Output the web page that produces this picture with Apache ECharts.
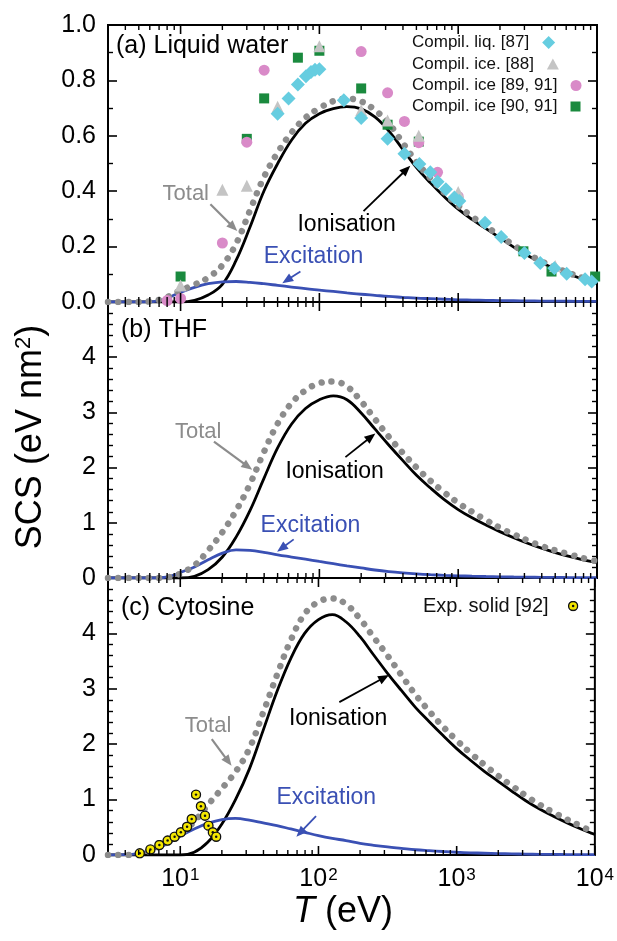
<!DOCTYPE html>
<html>
<head>
<meta charset="utf-8">
<script src="https://cdn.jsdelivr.net/npm/echarts@6/dist/echarts.min.js"></script>
<style>html,body{margin:0;padding:0;background:#fff}#c{width:617px;height:941px}</style>
</head>
<body>
<div id="c"></div>
<script>
// ---------------- DATA ----------------
// common energy grid (eV) for the model curves
const energyT = [3,4,5,6,7,8,9,10,12.6,15.8,20,25.1,31.6,39.8,50.1,63.1,79.4,100,126,158,200,251,316,398,501,631,794,1000,1259,1585,1995,2512,3162,3981,5012,6310,7943,10000];

// Panel (a) Liquid water
const waterTotal = [0,0,0,0.002,0.008,0.018,0.03,0.042, 0.063,0.088,0.133,0.21,0.33,0.45,0.54,0.612,0.665,0.7, 0.725,0.734,0.724,0.693,0.645,0.575,0.505,0.447,0.395,0.348, 0.308,0.273,0.239,0.205,0.174,0.147,0.124,0.104,0.086,0.069];
const waterIon   = [0,0,0,0,0,0,0,0, 0.006,0.025,0.064,0.15,0.27,0.4,0.5,0.585,0.645,0.68, 0.698,0.705,0.697,0.668,0.618,0.552,0.485,0.43,0.38,0.335, 0.298,0.265,0.232,0.198,0.168,0.142,0.12,0.1,0.082,0.066];
const waterExc   = [0,0,0,0,0.005,0.014,0.025,0.035, 0.053,0.066,0.073,0.074,0.071,0.066,0.06,0.054,0.048,0.043, 0.038,0.033,0.028,0.024,0.02,0.017,0.014,0.012,0.01,0.008, 0.007,0.006,0.005,0.0045,0.004,0.0035,0.003,0.0027,0.0024,0.002];

const liq87T = [50,60,70,80,87,93,100,150,200,310,410,525,630,710,815,940,1020,1560,2040,3000,3900,4930,6050,8200,9160];
const liq87V = [0.68,0.735,0.785,0.815,0.83,0.838,0.84,0.728,0.664,0.589,0.535,0.498,0.468,0.434,0.407,0.377,0.365,0.286,0.235,0.177,0.141,0.122,0.102,0.082,0.074];
const ice88T = [10,20,30,50,100,200,310,520,1000,5000];
const ice88V = [0.06,0.405,0.42,0.705,0.923,0.692,0.655,0.6,0.397,0.13];
const ice89T = [8,10,20,30,40,200,310,410,520,710,1000];
const ice89V = [0.005,0.013,0.213,0.577,0.837,0.904,0.755,0.652,0.575,0.468,0.381];
const ice90T = [10,30,40,70,100,200,310,520,2950,4700,9700];
const ice90V = [0.092,0.589,0.735,0.882,0.907,0.771,0.64,0.579,0.183,0.11,0.092];

// Panel (b) THF
const thfTotal = [0,0,0,0,0,0.01,0.04,0.08, 0.23,0.5,0.83,1.22,1.7,2.28,2.8,3.17,3.4,3.53, 3.56,3.47,3.2,2.88,2.56,2.27,2.0,1.76,1.55,1.36, 1.2,1.05,0.91,0.79,0.68,0.58,0.5,0.43,0.36,0.3];
const thfIon   = [0,0,0,0,0,0,0,0, 0.03,0.15,0.38,0.74,1.22,1.8,2.36,2.79,3.07,3.23, 3.3,3.23,2.99,2.7,2.41,2.13,1.86,1.63,1.42,1.24, 1.09,0.96,0.84,0.73,0.63,0.54,0.46,0.39,0.33,0.28];
const thfExc   = [0,0,0,0,0,0.02,0.055,0.1, 0.2,0.33,0.45,0.51,0.5,0.465,0.42,0.38,0.34,0.3, 0.26,0.22,0.182,0.145,0.115,0.092,0.074,0.06,0.049,0.04, 0.033,0.027,0.022,0.018,0.015,0.012,0.01,0.008,0.007,0.006];

// Panel (c) Cytosine
const cytTotal = [0,0,0.02,0.08,0.15,0.22,0.3,0.38, 0.6,0.9,1.2,1.5,1.92,2.57,3.25,3.88,4.35,4.57, 4.63,4.53,4.26,3.93,3.6,3.25,2.9,2.6,2.32,2.07, 1.84,1.63,1.43,1.25,1.07,0.91,0.77,0.64,0.52,0.4];
const cytIon   = [0,0,0,0,0,0,0,0, 0.05,0.23,0.56,1.0,1.55,2.25,2.95,3.55,4.0,4.25, 4.34,4.21,3.94,3.61,3.28,2.97,2.67,2.41,2.16,1.92, 1.71,1.51,1.33,1.15,0.98,0.83,0.7,0.58,0.47,0.37];
const cytExc   = [0,0.005,0.03,0.08,0.14,0.2,0.27,0.34, 0.47,0.57,0.64,0.66,0.63,0.58,0.53,0.47,0.41,0.35, 0.3,0.26,0.21,0.175,0.145,0.12,0.095,0.078,0.063,0.05, 0.04,0.032,0.025,0.02,0.016,0.012,0.01,0.008,0.006,0.005];

const exp92T = [5.09,6.08,7.06,8.1,9.1,10.1,11.2,12.1,13.0,14.1,15.1,16.0,17.2,18.2];
const exp92V = [0.03,0.10,0.18,0.26,0.33,0.41,0.51,0.65,1.09,0.88,0.71,0.53,0.41,0.33];

// Axis ticks / labels
const xMajorTicks = [10,100,1000,10000];
const xMinorTicks = [4,5,6,7,8,9,20,30,40,50,60,70,80,90,200,300,400,500,600,700,800,900,2000,3000,4000,5000,6000,7000,8000,9000];
const panelYMax = [1, 5, 5];
const panelYInterval = [0.2, 1, 1];
const panelYMinorSplit = [2, 5, 5];
const panelTitles = ['(a) Liquid water', '(b) THF', '(c) Cytosine'];
const legendA = ['Compil. liq. [87]', 'Compil. ice. [88]', 'Compil. ice [89, 91]', 'Compil. ice [90, 91]'];
const legendC = ['Exp. solid [92]'];

// Annotations (data coordinates): [panel, label, textT, textV, arrowFromT, arrowFromV, arrowToT, arrowToV, kind]
const annotations = [
  [0,'Total',10.9,0.389,16.4,0.353,25.6,0.256,'total'],
  [0,'Ionisation',69.5,0.28,208,0.328,452,0.492,'ion'],
  [0,'Excitation',39.7,0.164,73,0.11,54,0.068,'exc'],
  [1,'Total',13.4,2.65,17.4,2.47,32.8,1.96,'total'],
  [1,'Ionisation',56.9,1.92,154,2.19,253,2.62,'ion'],
  [1,'Excitation',37.7,0.94,65.3,0.70,49.6,0.476,'exc'],
  [2,'Total',15.9,2.33,16.9,2.09,23.5,1.61,'total'],
  [2,'Ionisation',61.1,2.47,141.6,2.76,324,3.25,'ion'],
  [2,'Excitation',49.6,1.04,96,0.70,69.2,0.33,'exc']
];

// ---------------- CHART ----------------
const FONT = "'Liberation Sans', Arial, Helvetica, sans-serif";
const C_TOTAL = '#8c8c8c', C_ION = '#000000', C_EXC = '#3a50b4';
const chart = echarts.init(document.getElementById('c'), null, {renderer: 'canvas'});

const zip = (a, b) => a.map((x, i) => [x, b[i]]);
const grids = [
  {left: 108, right: 20, top: 25, height: 277},
  {left: 108, right: 20, top: 302, height: 276},
  {left: 108, right: 20, top: 578, height: 277}
].map(g => Object.assign({show: true, borderColor: '#000', borderWidth: 2, backgroundColor: 'transparent'}, g));

const xAxes = [0,1,2].map(i => ({
  type: 'log', logBase: 10, gridIndex: i, min: 3, max: 10000,
  axisLine: {show: false}, axisTick: {show: false}, splitLine: {show: false}, minorTick: {show: false},
  axisLabel: i === 2 ? {
    show: true, margin: 12, color: '#000', fontFamily: FONT, fontSize: 25,
    formatter: v => {
      const e = Math.round(Math.log10(v));
      if (Math.abs(Math.pow(10, e) - v) > 1e-6 * v || e < 1) return '';
      return '10{s|' + e + '}';
    },
    rich: {s: {fontSize: 17, fontFamily: FONT, color: '#000', verticalAlign: 'top', padding: [0,0,0,1]}}
  } : {show: false}
}));

const yAxes = [];
[0,1,2].forEach(i => {
  const base = {
    type: 'value', gridIndex: i, min: 0, max: panelYMax[i], interval: panelYInterval[i],
    axisLine: {show: false}, splitLine: {show: false},
    axisTick: {show: true, inside: true, length: 9, lineStyle: {color: '#000', width: 1.6}},
    minorTick: {show: true, splitNumber: panelYMinorSplit[i], length: 5, lineStyle: {color: '#000', width: 1.4}}
  };
  yAxes.push(Object.assign({}, base, {
    position: 'left',
    axisLabel: {
      show: true, margin: 12, color: '#000', fontFamily: FONT, fontSize: 25,
      showMaxLabel: i === 0, showMinLabel: true,
      formatter: v => i === 0 ? v.toFixed(1) : String(Math.round(v))
    }
  }));
  yAxes.push(Object.assign({}, base, {position: 'right', axisLabel: {show: false}}));
});

const series = [];
const seriesRef = [];
function lineSeries(i, name, T, V, kind) {
  const s = {
    type: 'line', name, xAxisIndex: i, yAxisIndex: 2 * i, data: zip(T, V),
    showSymbol: false, symbol: 'none', smooth: 0.4, silent: true, z: 3, clip: true
  };
  if (kind === 'total') s.lineStyle = {color: C_TOTAL, width: 6.5, type: [0.01, 10.2], cap: 'round'};
  if (kind === 'ion') s.lineStyle = {color: C_ION, width: 2.8};
  if (kind === 'exc') s.lineStyle = {color: C_EXC, width: 2.8};
  s.itemStyle = {color: s.lineStyle.color};
  series.push(s);
  return series.length - 1;
}
const panelData = [
  [waterTotal, waterIon, waterExc],
  [thfTotal, thfIon, thfExc],
  [cytTotal, cytIon, cytExc]
];
panelData.forEach((d, i) => {
  seriesRef[i] = lineSeries(i, 'Ionisation ' + i, energyT, d[1], 'ion');
  lineSeries(i, 'Excitation ' + i, energyT, d[2], 'exc');
  lineSeries(i, 'Total ' + i, energyT, d[0], 'total');
});

function scatter(i, name, T, V, symbol, size, color) {
  series.push({
    type: 'scatter', name, xAxisIndex: i, yAxisIndex: 2 * i, data: zip(T, V),
    symbol, symbolSize: size, itemStyle: {color, opacity: 1}, z: 5, silent: true
  });
}
scatter(0, legendA[3], ice90T, ice90V, 'rect', 10, '#1a8a3e');
scatter(0, legendA[2], ice89T, ice89V, 'circle', 11, '#d98ac8');
scatter(0, legendA[1], ice88T, ice88V, 'triangle', 12, '#c4c4c4');
scatter(0, legendA[0], liq87T, liq87V, 'diamond', 14, '#66cde0');

const ringSvg = "<svg xmlns='http://www.w3.org/2000/svg' width='40' height='40'><circle cx='20' cy='20' r='16.5' fill='#f4e600' stroke='#111' stroke-width='5'/><circle cx='20' cy='20' r='4.5' fill='#111'/></svg>";
scatter(2, legendC[0], exp92T, exp92V, 'image://data:image/svg+xml;charset=utf-8,' + encodeURIComponent(ringSvg), 11, '#f4e600');

// Custom x-tick marks (log minor ticks at 2..9 x 10^n, top and bottom, inward)
const tickData = xMajorTicks.map(v => [v, 0, 1]).concat(xMinorTicks.map(v => [v, 0, 0]));
[0,1,2].forEach(i => {
  series.push({
    type: 'custom', xAxisIndex: i, yAxisIndex: 2 * i, data: tickData, silent: true, clip: false, z: 10,
    encode: {x: 0, y: 1},
    renderItem: (params, api) => {
      const v = api.value(0), maj = api.value(2);
      const b = api.coord([v, 0]);
      const t = api.coord([v, panelYMax[i]]);
      const L = maj ? 9 : 5;
      const st = {stroke: '#000', lineWidth: maj ? 1.6 : 1.4};
      return {type: 'group', children: [
        {type: 'line', shape: {x1: b[0], y1: b[1], x2: b[0], y2: b[1] - L}, style: st},
        {type: 'line', shape: {x1: t[0], y1: t[1], x2: t[0], y2: t[1] + L}, style: st}
      ]};
    }
  });
});

// legends: one component per entry so each icon sits right after its own text
const legendARowTop = [34, 55.5, 77, 98];
const legendAIcon = [[13, 13], [12, 11], [11, 11], [10, 10]];
const legends = legendA.map((name, k) => ({
  data: [name], orient: 'horizontal', left: 412, top: legendARowTop[k], align: 'right', padding: 0,
  itemWidth: legendAIcon[k][0], itemHeight: legendAIcon[k][1], selectedMode: false,
  textStyle: {fontSize: 17, fontFamily: FONT, color: '#111', padding: [0, 8, 0, 0]}
}));
legends.push({
  data: legendC, orient: 'horizontal', left: 423, top: 596, align: 'right', padding: 0,
  itemWidth: 11, itemHeight: 11, selectedMode: false,
  textStyle: {fontSize: 20, fontFamily: FONT, color: '#111', padding: [0, 14, 0, 0]}
});

chart.setOption({
  animation: false,
  backgroundColor: '#fff',
  grid: grids, xAxis: xAxes, yAxis: yAxes, series, legend: legends
});

// ---------- graphic texts & annotation arrows ----------
function arrowGraphics(color, p1, p2, w) {
  const dx = p2[0] - p1[0], dy = p2[1] - p1[1];
  const len = Math.sqrt(dx * dx + dy * dy), ux = dx / len, uy = dy / len;
  const hl = 11, hw = 4.5;
  const bx = p2[0] - ux * hl, by = p2[1] - uy * hl;
  return [
    {type: 'line', shape: {x1: p1[0], y1: p1[1], x2: bx + ux * 2, y2: by + uy * 2}, style: {stroke: color, lineWidth: w}, z: 20},
    {type: 'polygon', shape: {points: [[p2[0], p2[1]], [bx - uy * hw, by + ux * hw], [bx + uy * hw, by - ux * hw]]}, style: {fill: color}, z: 20}
  ];
}
const colorOf = {total: C_TOTAL, ion: '#000', exc: C_EXC};
const gfx = [];
annotations.forEach(a => {
  const [p, label, tT, tV, fT, fV, toT, toV, kind] = a;
  const finder = {seriesIndex: seriesRef[p]};
  const tp = chart.convertToPixel(finder, [tT, tV]);
  const f = chart.convertToPixel(finder, [fT, fV]);
  const t = chart.convertToPixel(finder, [toT, toV]);
  gfx.push({type: 'text', x: tp[0], y: tp[1], z: 20,
    style: {text: label, fill: colorOf[kind], font: (kind === 'total' ? '22px ' : '23px ') + FONT,
      textAlign: kind === 'total' ? 'center' : 'left', textVerticalAlign: 'middle'}});
  gfx.push(...arrowGraphics(colorOf[kind], f, t, kind === 'total' ? 2.2 : 1.8));
});
const titlePos = [[116, 46], [121, 330], [121, 608]];
panelTitles.forEach((t, i) => {
  gfx.push({type: 'text', x: titlePos[i][0], y: titlePos[i][1], z: 20,
    style: {text: t, fill: '#000', font: '25px ' + FONT, textAlign: 'left', textVerticalAlign: 'middle'}});
});
gfx.push({type: 'text', x: 31, y: 437, rotation: Math.PI / 2, z: 20,
  style: {text: 'SCS (eV nm{s|2})', fill: '#000', fontSize: 36, fontFamily: FONT,
    textAlign: 'center', textVerticalAlign: 'middle',
    rich: {s: {fontSize: 22, fontFamily: FONT, fill: '#000', verticalAlign: 'top'}}}});
gfx.push({type: 'text', x: 343, y: 912, z: 20,
  style: {text: '{i|T} (eV)', fill: '#000', fontSize: 36, fontFamily: FONT,
    textAlign: 'center', textVerticalAlign: 'middle',
    rich: {i: {fontSize: 36, fontFamily: FONT, fontStyle: 'italic', fill: '#000'}}}});
chart.setOption({graphic: {elements: gfx}});
</script>
</body>
</html>
